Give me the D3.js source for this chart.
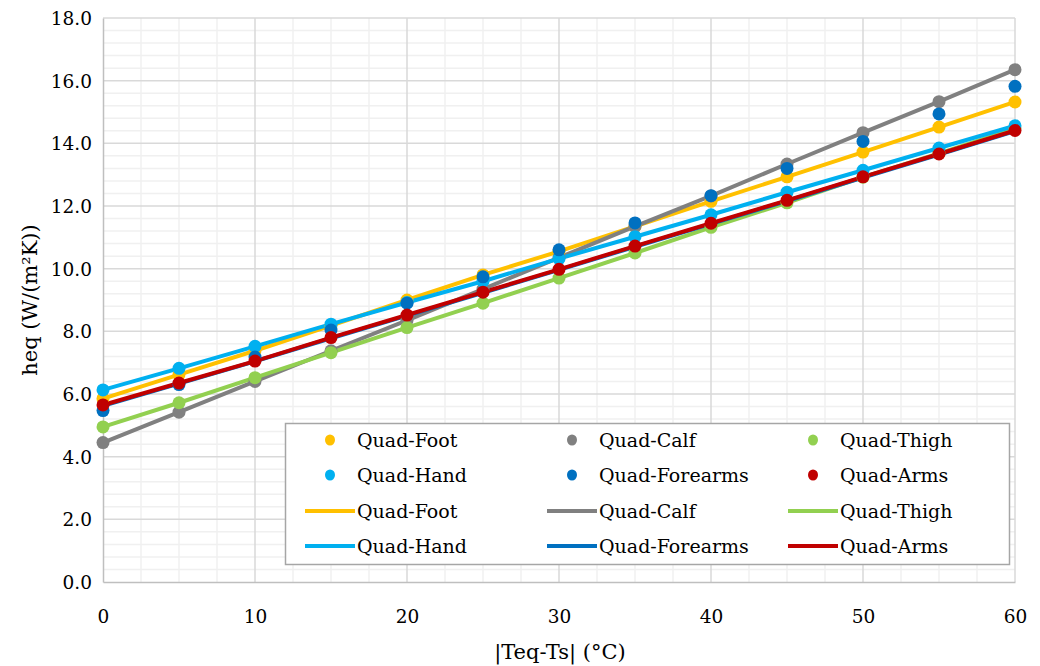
<!DOCTYPE html>
<html><head><meta charset="utf-8">
<script src="https://cdn.jsdelivr.net/npm/d3@7"></script>
<style>body{margin:0;background:#fff}svg{display:block}text{font-family:"DejaVu Serif","Liberation Serif",serif}</style>
</head><body>
<svg id="c" width="1040" height="666"></svg>
<script>
const xValues = [0,5,10,15,20,25,30,35,40,45,50,55,60];
const footPts     = [5.85,6.62,7.38,8.18,9.0,9.8,10.55,11.35,12.15,12.93,13.72,14.52,15.32];
const calfPts     = [4.45,5.42,6.4,7.38,8.35,9.35,10.35,11.35,12.32,13.34,14.34,15.33,16.35];
const thighPts    = [4.95,5.72,6.52,7.32,8.12,8.9,9.7,10.5,11.32,12.1,12.92,13.68,14.47];
const handPts     = [6.13,6.82,7.52,8.23,8.92,9.6,10.32,11.02,11.72,12.44,13.14,13.85,14.56];
const forearmsPts = [5.47,6.3,7.18,8.04,8.9,9.74,10.6,11.46,12.33,13.2,14.06,14.94,15.82];
const armsPts     = [5.65,6.35,7.05,7.8,8.52,9.25,9.98,10.72,11.45,12.18,12.93,13.66,14.41];
const footFit     = footPts;
const calfFit     = calfPts;
const thighFit    = thighPts;
const handFit     = handPts;
const forearmsFit = [5.62,6.33,7.04,7.78,8.5,9.23,9.96,10.7,11.43,12.16,12.91,13.64,14.39];
const armsFit     = armsPts;
const seriesNames = ["Quad-Foot","Quad-Calf","Quad-Thigh","Quad-Hand","Quad-Forearms","Quad-Arms"];
const colors = ["#FFC000","#808080","#92D050","#00B0F0","#0070C0","#C00000"];
const xTicks = [0,10,20,30,40,50,60];
const yTicks = [0,2,4,6,8,10,12,14,16,18];

const pts = [footPts,calfPts,thighPts,handPts,forearmsPts,armsPts];
const fits = [footFit,calfFit,thighFit,handFit,forearmsFit,armsFit];

const svg = d3.select("#c");
const L=103,R=1015,T=18,B=582;
const x = d3.scaleLinear().domain([0,60]).range([L,R]);
const y = d3.scaleLinear().domain([0,18]).range([B,T]);

const g = svg.append("g");
g.selectAll("line.mx").data(d3.range(0,60.01,2.5).filter(v=>v%10!==0)).join("line")
 .attr("x1",d=>x(d)).attr("x2",d=>x(d)).attr("y1",T).attr("y2",B).attr("stroke","#f0f0f0").attr("stroke-width",1.5);
g.selectAll("line.my").data(d3.range(0,18.01,0.4).filter(v=>Math.abs(v/2-Math.round(v/2))>0.01)).join("line")
 .attr("y1",d=>y(d)).attr("y2",d=>y(d)).attr("x1",L).attr("x2",R).attr("stroke","#f0f0f0").attr("stroke-width",1.5);
g.selectAll("line.Mx").data(xTicks.slice(1)).join("line")
 .attr("x1",d=>x(d)).attr("x2",d=>x(d)).attr("y1",T).attr("y2",B).attr("stroke","#d9d9d9").attr("stroke-width",1.5);
g.selectAll("line.My").data(yTicks.slice(1)).join("line")
 .attr("y1",d=>y(d)).attr("y2",d=>y(d)).attr("x1",L).attr("x2",R).attr("stroke","#d9d9d9").attr("stroke-width",1.5);

const xa = svg.append("g").attr("transform",`translate(0,${B})`).call(d3.axisBottom(x).tickValues(xTicks).tickSize(0).tickPadding(28));
const ya = svg.append("g").attr("transform",`translate(${L},0)`).call(d3.axisLeft(y).tickValues(yTicks).tickSize(0).tickPadding(11).tickFormat(d3.format(".1f")));
[xa,ya].forEach(a=>{a.select(".domain").attr("stroke","#bfbfbf").attr("stroke-width",1.5);a.selectAll("text").attr("font-size",18.5).attr("fill","#000").style("font-family","DejaVu Serif");});
ya.selectAll("text").attr("dy","0.35em");

svg.append("text").attr("x",(L+R)/2+1).attr("y",659).attr("text-anchor","middle").attr("font-size",21).text("|Teq-Ts| (°C)");
svg.append("text").attr("transform",`translate(37,${(T+B)/2}) rotate(-90)`).attr("text-anchor","middle").attr("font-size",21).text("heq (W/(m²K))");

const line = d3.line().x((d,i)=>x(xValues[i])).y(d=>y(d));
fits.forEach((f,i)=>svg.append("path").datum(f).attr("d",line).attr("fill","none").attr("stroke",colors[i]).attr("stroke-width",4).attr("stroke-linejoin","round"));
pts.forEach((p,i)=>svg.append("g").selectAll("circle").data(p).join("circle")
  .attr("cx",(d,j)=>x(xValues[j])).attr("cy",d=>y(d)).attr("r",6.5).attr("fill",colors[i]));

const lg = svg.append("g");
lg.append("rect").attr("x",285.5).attr("y",423.5).attr("width",724).attr("height",141).attr("fill","#fff").attr("stroke","#a6a6a6").attr("stroke-width",1.5);
const colX=[305,547,788], rowY=[440,475,511,546];
seriesNames.forEach((n,i)=>{
  const c=i%3, r=Math.floor(i/3);
  lg.append("ellipse").attr("cx",colX[c]+25).attr("cy",rowY[r]).attr("rx",5).attr("ry",5.5).attr("fill",colors[i]);
  lg.append("text").attr("x",colX[c]+52).attr("y",rowY[r]).attr("dy","0.35em").attr("font-size",19).text(n);
  lg.append("line").attr("x1",colX[c]).attr("x2",colX[c]+50).attr("y1",rowY[r+2]).attr("y2",rowY[r+2]).attr("stroke",colors[i]).attr("stroke-width",4);
  lg.append("text").attr("x",colX[c]+52).attr("y",rowY[r+2]).attr("dy","0.35em").attr("font-size",19).text(n);
});
</script>
</body></html>
